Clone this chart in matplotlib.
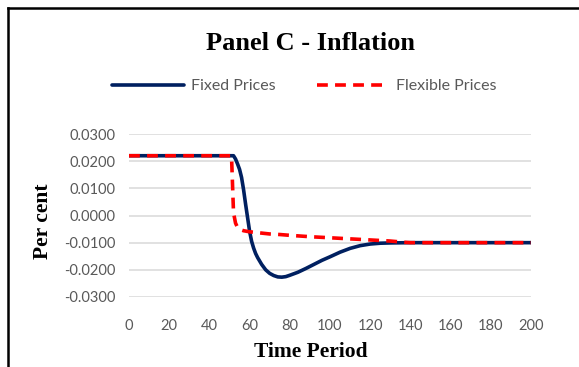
import matplotlib
matplotlib.use("Agg")
import matplotlib.pyplot as plt
from matplotlib.lines import Line2D

# Time periods and inflation paths (per cent)
fixed_t = [0, 52, 53, 54, 55, 56, 57, 58, 59, 60, 61, 62, 63, 64, 66, 68, 70, 72,
           74, 76, 78, 80, 84, 88, 92, 96, 100, 105, 110, 115, 120, 125, 130, 140, 200]
fixed_v = [0.0220, 0.0220, 0.0208, 0.0190, 0.0170, 0.0140, 0.0095, 0.0042, -0.0008,
           -0.0058, -0.0095, -0.0120, -0.0140, -0.0155, -0.0180, -0.0200, -0.0213,
           -0.0221, -0.0226, -0.0227, -0.0225, -0.0220, -0.0209, -0.0195, -0.0180,
           -0.0165, -0.0152, -0.0135, -0.0121, -0.0111, -0.0105, -0.0102, -0.0101,
           -0.0100, -0.0100]

flex_t = [0, 51, 52, 53, 54, 55, 57, 60, 65, 70, 75, 80, 90, 100, 110, 120, 130,
          136, 140, 200]
flex_v = [0.0220, 0.0220, 0.0010, -0.0028, -0.0044, -0.0051, -0.0056, -0.0060,
          -0.0064, -0.0068, -0.0070, -0.0073, -0.0078, -0.0082, -0.0086, -0.0090,
          -0.0094, -0.0098, -0.0100, -0.0100]

x_ticks = [0, 20, 40, 60, 80, 100, 120, 140, 160, 180, 200]
y_ticks = [-0.03, -0.02, -0.01, 0.0, 0.01, 0.02, 0.03]
y_tick_labels = ["-0.0300", "-0.0200", "-0.0100", "0.0000", "0.0100", "0.0200", "0.0300"]

W, H = 579, 367
fig = plt.figure(figsize=(W / 100, H / 100), dpi=100)
fig.patch.set_facecolor("white")

ax = fig.add_axes([129 / W, 1 - 297 / H, (531 - 129) / W, (297 - 134) / H])
ax.set_xlim(0, 200)
ax.set_ylim(-0.03, 0.03)

tick_color = "#595959"
ax.set_xticks(x_ticks)
ax.set_xticklabels([str(v) for v in x_ticks], fontfamily="Lato", fontsize=10.5,
                   color=tick_color)
ax.set_yticks(y_ticks)
ax.set_yticklabels(y_tick_labels, fontfamily="Lato", fontsize=10.5, color=tick_color)
ax.tick_params(length=0)
ax.tick_params(axis="x", pad=16)
ax.tick_params(axis="y", pad=10)
for s in ax.spines.values():
    s.set_visible(False)
ax.grid(axis="y", color="#d9d9d9", linewidth=1.1)
ax.set_axisbelow(True)

ax.plot(fixed_t, fixed_v, color="#002060", linewidth=2.6, solid_capstyle="round",
        label="Fixed Prices", zorder=3)
ax.plot(flex_t, flex_v, color="#ff0000", linewidth=2.6, linestyle=(0, (3.0, 2.0)),
        label="Flexible Prices", zorder=4)

# Title, legend and axis titles
fig.text(311 / W, 1 - 43 / H, "Panel C - Inflation", ha="center", va="center",
         fontfamily="Liberation Serif", fontweight="bold", fontsize=19)
fig.legend(loc="center", bbox_to_anchor=(304.5 / W, 1 - 86 / H), ncol=2, frameon=False,
           prop={"family": "Lato", "size": 11.5}, labelcolor=tick_color,
           handlelength=4.5, columnspacing=2.6, handletextpad=0.45,
           borderpad=0, borderaxespad=0)
fig.text(43 / W, 1 - 221 / H, "Per cent", rotation=90, ha="center", va="center",
         fontfamily="Liberation Serif", fontweight="bold", fontsize=15.5)
fig.text(311 / W, 1 - 352 / H, "Time Period", ha="center", va="center",
         fontfamily="Liberation Serif", fontweight="bold", fontsize=15.5)

# Chart frame (left and top edges)
fig.add_artist(Line2D([8 / W, 8 / W], [0, 1 - 7.5 / H], transform=fig.transFigure,
                      color="black", linewidth=1.8))
fig.add_artist(Line2D([8 / W, 1], [1 - 7.5 / H, 1 - 7.5 / H], transform=fig.transFigure,
                      color="black", linewidth=1.8))

fig.savefig("out.png", dpi=100)
